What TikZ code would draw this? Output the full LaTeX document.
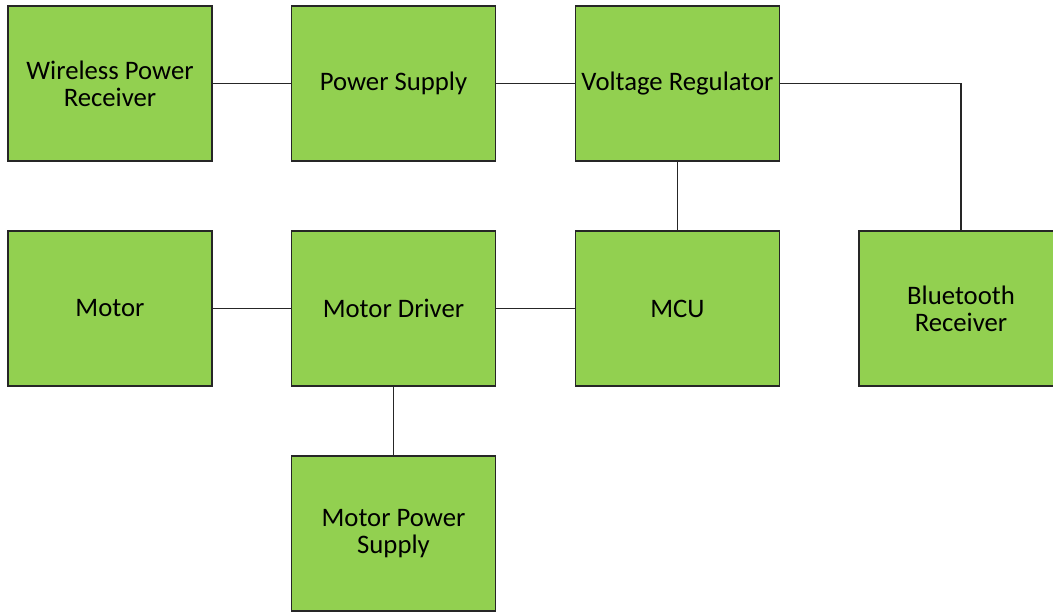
\documentclass[tikz,border=0pt]{standalone}
\usepackage{fontspec}
\setmainfont{Carlito}
\usepackage{xcolor}
\definecolor{blockgreen}{HTML}{92D050}
\usetikzlibrary{positioning}

\begin{document}
\begin{tikzpicture}[
  x=0.025cm, y=-0.025cm,
  % ---- boxes -------------------------------------------------------------
  block/.style={
    draw=black!85, line width=0.9pt, fill=blockgreen,
    align=center, inner sep=2pt, font=\fontsize{19}{19.4}\selectfont,
    minimum width=5.1cm, minimum height=3.875cm},
  % ---- edges -------------------------------------------------------------
  wire/.style={draw=black!85, line width=0.9pt},
]
\useasboundingbox (0,0) rectangle (1053,613);

% ---- top row ----------------------------------------------------------------
\node[block] (wpr) at (110,83.5)   {Wireless Power\\Receiver};
\node[block] (ps)  at (393.5,83.5) {Power Supply};
\node[block] (vr)  at (677.5,83.5) {Voltage Regulator};

% ---- middle row -------------------------------------------------------------
\node[block] (motor) at (110,308.5)   {Motor};
\node[block] (md)    at (393.5,308.5) {Motor Driver};
\node[block] (mcu)   at (677.5,308.5) {MCU};
\node[block] (bt)    at (961,308.5)   {Bluetooth\\Receiver};

% ---- bottom row -------------------------------------------------------------
\node[block] (mps) at (393.5,533.5) {Motor Power\\Supply};

% ---- connections ------------------------------------------------------------
\draw[wire] (wpr) -- (ps);
\draw[wire] (ps) -- (vr);
\draw[wire] (vr.east) -| (bt.north);
\draw[wire] (vr) -- (mcu);
\draw[wire] (motor) -- (md);
\draw[wire] (md) -- (mcu);
\draw[wire] (md) -- (mps);

\end{tikzpicture}
\end{document}
